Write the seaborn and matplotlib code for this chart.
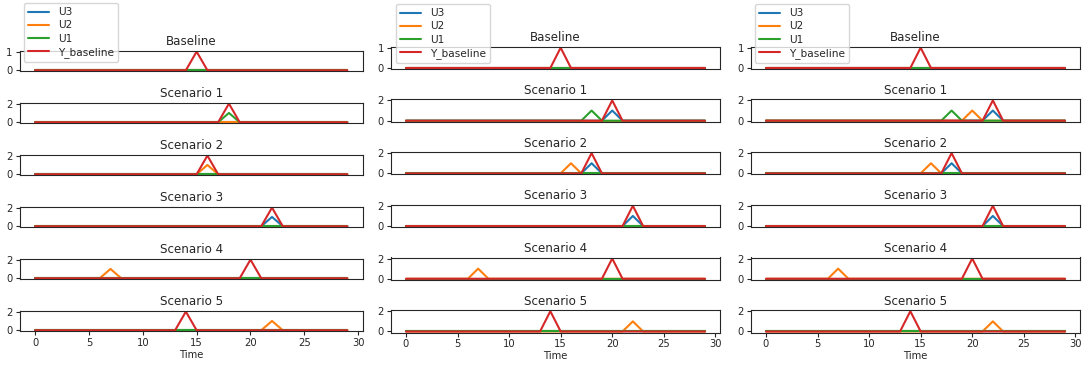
import numpy as np
import pandas as pd
import seaborn as sns
import matplotlib.pyplot as plt

sns.set_style("ticks")

time = list(range(30))
series = ["U3", "U2", "U1", "Y_baseline"]
colors = ["#1f77b4", "#ff7f0e", "#2ca02c", "#d62728"]
titles = ["Baseline", "Scenario 1", "Scenario 2", "Scenario 3", "Scenario 4", "Scenario 5"]
time_ticks = [0, 5, 10, 15, 20, 25, 30]

# one pulse (time, height) per panel, None = stays at 0
# left figure
a_u3 = [None, None, None, (22, 1), None, None]
a_u2 = [None, None, (16, 1), None, (7, 1), (22, 1)]
a_u1 = [None, (18, 1), None, None, None, None]
a_y = [(15, 1), (18, 2), (16, 2), (22, 2), (20, 2), (14, 2)]

# middle figure
b_u3 = [None, (20, 1), (18, 1), (22, 1), None, None]
b_u2 = [None, None, (16, 1), None, (7, 1), (22, 1)]
b_u1 = [None, (18, 1), None, None, None, None]
b_y = [(15, 1), (20, 2), (18, 2), (22, 2), (20, 2), (14, 2)]

# right figure
c_u3 = [None, (22, 1), (18, 1), (22, 1), None, None]
c_u2 = [None, (20, 1), (16, 1), None, (7, 1), (22, 1)]
c_u1 = [None, (18, 1), None, None, None, None]
c_y = [(15, 1), (22, 2), (18, 2), (22, 2), (20, 2), (14, 2)]

panels = [
    [a_u3, a_u2, a_u1, a_y],
    [b_u3, b_u2, b_u1, b_y],
    [c_u3, c_u2, c_u1, c_y],
]


def pulse_series(p):
    y = np.zeros(len(time))
    if p is not None:
        y[p[0]] = p[1]
    return y


W, H = 1087, 375
fig = plt.figure(figsize=(W / 100, H / 100), dpi=100)

# left, right, top of first axes, step, height (pixels)
layout = [
    (19.5, 363, 50.7, 52.0, 20.5),
    (391, 720, 46.7, 52.7, 22.3),
    (751, 1080, 46.7, 52.7, 22.3),
]
legend_pos = [(24, 3), (396, 4), (755, 4)]

for c, cols in enumerate(panels):
    left, right, top0, step, h = layout[c]
    for r in range(6):
        top = top0 + r * step
        ax = fig.add_axes([left / W, 1 - (top + h) / H, (right - left) / W, h / H])
        for k, name in enumerate(series):
            df = pd.DataFrame({"Time": time, "v": pulse_series(cols[k][r])})
            sns.lineplot(data=df, x="Time", y="v", color=colors[k], lw=1.5,
                         label=name, ax=ax, legend=False)
        ax.set_title(titles[r], fontsize=8.6, pad=4)
        ax.set_ylabel("")
        ax.set_yticks([0, 1] if r == 0 else [0, 2])
        ax.tick_params(axis="y", labelsize=7.2, length=3, pad=2)
        ax.set_xticks(time_ticks)
        if r < 5:
            ax.tick_params(axis="x", bottom=False, labelbottom=False)
            ax.set_xlabel("")
        else:
            ax.tick_params(axis="x", labelsize=7.2, length=3, pad=2)
            ax.set_xlabel("Time", fontsize=7.2, labelpad=1)
        for s in ax.spines.values():
            s.set_linewidth(0.8)
        if r == 0:
            handles, labels = ax.get_legend_handles_labels()
    lx, ly = legend_pos[c]
    fig.legend(handles, labels, loc="upper left", bbox_to_anchor=(lx / W, 1 - ly / H),
               borderaxespad=0, fontsize=7.6, labelspacing=0.3, frameon=True)

fig.savefig("out.png", dpi=100)
